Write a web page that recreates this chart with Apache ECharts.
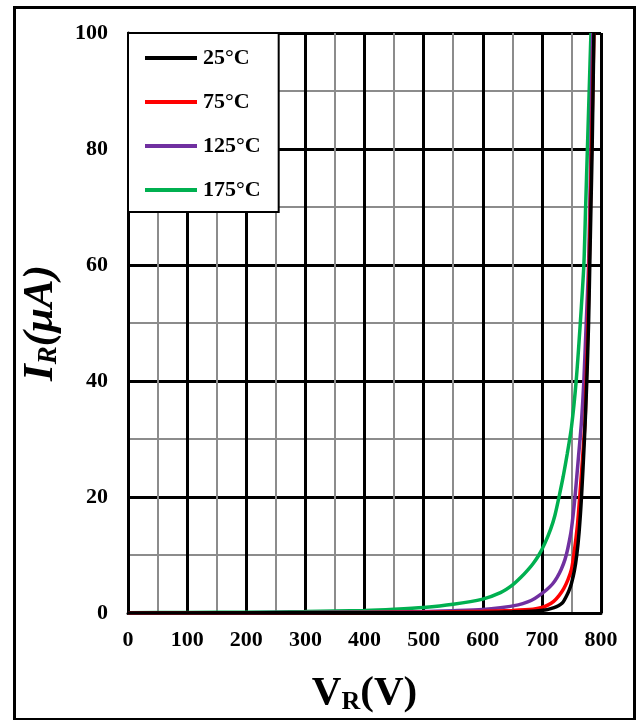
<!DOCTYPE html>
<html>
<head>
<meta charset="utf-8">
<script src="https://cdn.jsdelivr.net/npm/echarts@6/dist/echarts.min.js"></script>
<style>
html,body{margin:0;padding:0;background:#fff;}
#chart{width:639px;height:720px;}
</style>
</head>
<body>
<div id="chart"></div>
<script>
const seriesNames = ['25°C', '75°C', '125°C', '175°C'];
const seriesColors = ['#000000', '#ff0000', '#7030a0', '#00b050'];

const v25 = [0, 500, 600, 650, 690, 705, 715, 725, 731, 736, 741, 746, 750, 755, 759, 763, 767, 772, 776, 779, 781, 783, 785, 788];
const i25 = [0, 0.05, 0.1, 0.2, 0.35, 0.5, 0.75, 1.1, 1.45, 1.9, 2.8, 3.9, 5.1, 7.3, 10, 14, 20, 30, 40, 50, 60, 70, 80, 100];

const v75 = [0, 400, 500, 600, 650, 685, 700, 710, 720, 729, 737, 744, 750, 754, 760, 764, 769, 773, 775, 778, 780, 782, 784, 786, 788];
const i75 = [0, 0.1, 0.15, 0.3, 0.45, 0.65, 0.95, 1.35, 2.0, 3.0, 4.2, 5.7, 7.5, 10, 15, 20, 27, 33, 40, 50, 60, 70, 80, 90, 100];

const v125 = [0, 200, 300, 400, 500, 550, 600, 630, 660, 676, 688, 698, 708, 718, 726, 733, 739, 744, 750, 756, 762, 767, 771, 775, 779, 781, 783, 784, 786];
const i125 = [0, 0.05, 0.1, 0.15, 0.25, 0.4, 0.6, 0.9, 1.4, 1.9, 2.5, 3.2, 4.0, 5.0, 6.2, 7.6, 9.2, 11.2, 14.5, 20, 27, 33, 40, 50, 60, 70, 80, 90, 100];

const v175 = [0, 100, 200, 300, 400, 450, 500, 550, 600, 630, 650, 665, 676, 685, 695, 705, 715, 722, 729, 736, 743, 750, 758, 765, 771, 774, 777, 780, 783];
const i175 = [0.05, 0.1, 0.15, 0.25, 0.45, 0.65, 0.95, 1.5, 2.4, 3.5, 4.8, 6.2, 7.4, 8.5, 10, 12, 14.5, 16.8, 20, 23.5, 27.5, 32, 40, 50, 60, 70, 80, 90, 100];

const xTicks = { min: 0, max: 800, interval: 100 };
const yTicks = { min: 0, max: 100, interval: 20 };

const vData = [v25, v75, v125, v175];
const iData = [i25, i75, i125, i175];

const font = '"Liberation Serif", "Times New Roman", serif';

const series = seriesNames.map((name, k) => ({
  name: name,
  type: 'line',
  data: vData[k].map((v, j) => [v, iData[k][j]]),
  showSymbol: false,
  smooth: 0.25,
  lineStyle: { color: seriesColors[k], width: 3.5 },
  itemStyle: { color: seriesColors[k] },
  z: 10 - k
}));

const chart = echarts.init(document.getElementById('chart'), null, { renderer: 'canvas' });
chart.setOption({
  animation: false,
  backgroundColor: '#ffffff',
  grid: { left: 128, top: 33, right: 38, bottom: 107, containLabel: false, outerBoundsMode: 'none' },
  legend: {
    orient: 'vertical',
    left: 128,
    top: 33,
    data: seriesNames,
    icon: 'rect',
    itemWidth: 52,
    itemHeight: 4,
    itemGap: 22,
    padding: [14, 18, 11, 17],
    backgroundColor: '#ffffff',
    borderColor: '#000000',
    borderWidth: 2,
    textStyle: { fontFamily: font, fontWeight: 'bold', fontSize: 22, color: '#000', padding: [0, 0, 0, 1] },
    z: 20
  },
  xAxis: {
    type: 'value',
    min: xTicks.min, max: xTicks.max, interval: xTicks.interval,
    name: '{b|V}{s|R}{b|(V)}',
    nameLocation: 'middle',
    nameGap: 58,
    nameTextStyle: {
      rich: {
        b: { fontFamily: font, fontWeight: 'bold', fontSize: 41, color: '#000' },
        s: { fontFamily: font, fontWeight: 'bold', fontSize: 26, color: '#000', padding: [18, 0, 0, 0] }
      }
    },
    axisLine: { show: true, lineStyle: { color: '#000', width: 3 } },
    axisTick: { show: false },
    axisLabel: { fontFamily: font, fontWeight: 'bold', fontSize: 22, color: '#000', margin: 16 },
    splitLine: { show: true, lineStyle: { color: '#000', width: 3 } },
    minorTick: { show: false, splitNumber: 2 },
    minorSplitLine: { show: true, lineStyle: { color: '#8c8c8c', width: 2 } }
  },
  yAxis: {
    type: 'value',
    min: yTicks.min, max: yTicks.max, interval: yTicks.interval,
    name: '{b|I}{s|R}{b|(μA)}',
    nameLocation: 'middle',
    nameRotate: 90,
    nameGap: 65,
    nameTextStyle: {
      rich: {
        b: { fontFamily: font, fontWeight: 'bold', fontStyle: 'italic', fontSize: 43, color: '#000' },
        s: { fontFamily: font, fontWeight: 'bold', fontStyle: 'italic', fontSize: 27, color: '#000', padding: [18, 0, 0, 0] }
      }
    },
    axisLine: { show: true, lineStyle: { color: '#000', width: 3 } },
    axisTick: { show: false },
    axisLabel: { fontFamily: font, fontWeight: 'bold', fontSize: 22, color: '#000', margin: 20 },
    splitLine: { show: true, lineStyle: { color: '#000', width: 3 } },
    minorTick: { show: false, splitNumber: 2 },
    minorSplitLine: { show: true, lineStyle: { color: '#8c8c8c', width: 2 } }
  },
  graphic: [{
    type: 'rect',
    left: 12, top: 5,
    shape: { width: 620, height: 712 },
    style: { fill: 'none', stroke: '#000', lineWidth: 3 },
    silent: true
  }],
  series: series
});
</script>
</body>
</html>
